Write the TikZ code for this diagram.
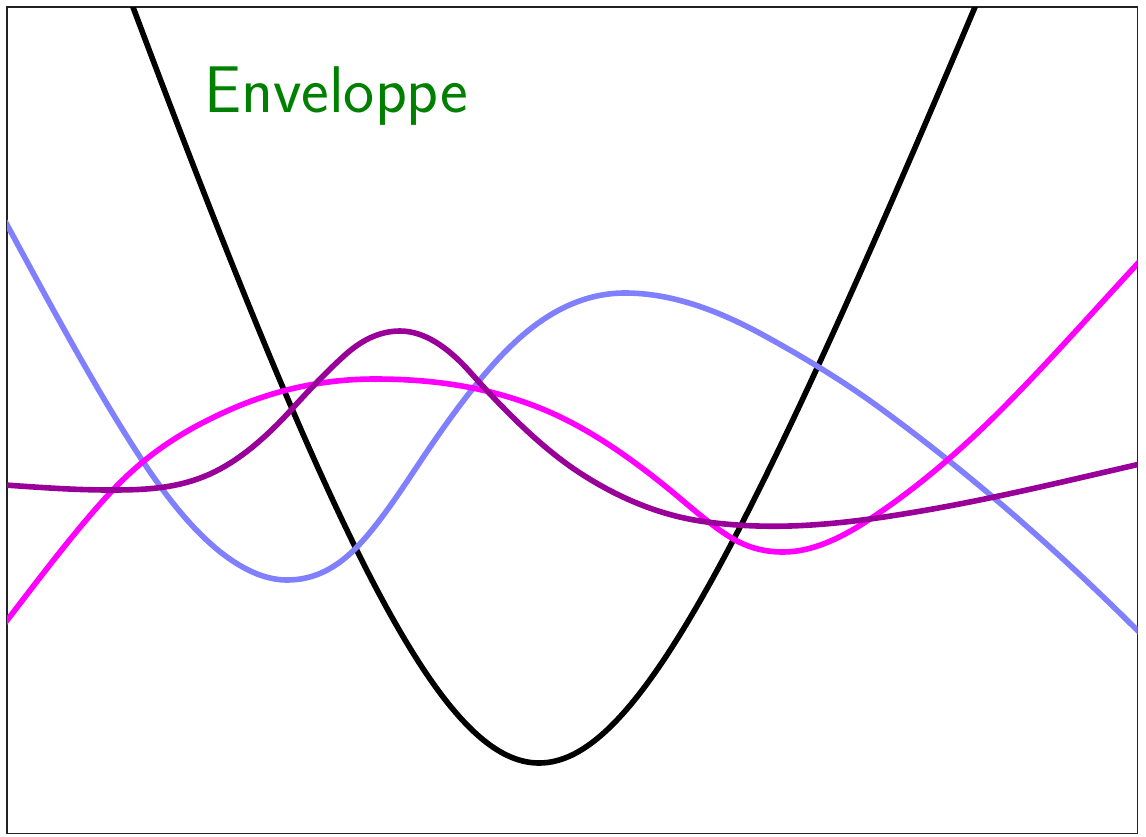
\documentclass[tikz,border=0pt]{standalone}
\definecolor{framegray}{HTML}{222222}
\definecolor{curveblue}{HTML}{8080FF}
\definecolor{curvemagenta}{HTML}{FF00FF}
\definecolor{curvepurple}{HTML}{990099}
\definecolor{envgreen}{HTML}{008000}
\begin{document}
\begin{tikzpicture}[x=1pt,y=-1pt,
  curve/.style={line width=5.6pt, line join=round},
  framebox/.style={line width=1.3pt, draw=framegray}]
\useasboundingbox (0,0) rectangle (1146,836);
\draw[framebox] (7,7) rectangle (1137.5,833.5);
\begin{scope}
\clip (7,7) rectangle (1137.5,833.5);
% black envelope
\draw[curve, black] plot[domain=126:539, samples=90, smooth] (\x, {763-100*(sqrt(33.339+8.763*((\x-539)/100)^2)-5.774)})
  -- plot[domain=539:990, samples=90, smooth] (\x, {763-100*(sqrt(19.167+6.489*((\x-539)/100)^2)-4.378)});
% blue
\draw[curve, curveblue] (5,221)
  .. controls (50.67,305.5) and (96.33,390.6) .. (142,460)
  .. controls (170.33,503.1) and (198.67,536.6) .. (227,557)
  .. controls (247,571.4) and (267,580) .. (287,580)
  .. controls (309.67,580) and (332.33,571.7) .. (355,549)
  .. controls (376.67,527.3) and (398.33,494.5) .. (420,462)
  .. controls (451,415.5) and (482,373.5) .. (513,344)
  .. controls (550.33,308.5) and (587.67,293) .. (625,293)
  .. controls (671.67,293) and (718.33,310.3) .. (765,336)
  .. controls (803.33,357.1) and (841.67,380) .. (880,408)
  .. controls (966.67,471.3) and (1053.33,546.3) .. (1140,633);
% magenta
\draw[curve, curvemagenta] (5,623)
  .. controls (40,577.5) and (75,530.8) .. (110,493)
  .. controls (149,450.9) and (188,428.6) .. (227,411)
  .. controls (276.33,388.8) and (325.67,379) .. (375,379)
  .. controls (430,379) and (485,386) .. (540,408)
  .. controls (583.33,425.3) and (626.67,454.5) .. (670,490)
  .. controls (690,506.4) and (710,524.6) .. (730,537)
  .. controls (747.67,548) and (765.33,552) .. (783,552)
  .. controls (811,552) and (839,539.2) .. (867,521)
  .. controls (911.33,492.2) and (955.67,455.3) .. (1000,411)
  .. controls (1046.67,364.3) and (1093.33,311.4) .. (1140,261);
% purple
\draw[curve, curvepurple] (5,485)
  .. controls (40,487.45) and (75,490) .. (110,490)
  .. controls (143.33,490) and (176.67,489) .. (210,474)
  .. controls (237,461.85) and (264,439.7) .. (291,410)
  .. controls (309,390.2) and (327,371.2) .. (345,355)
  .. controls (363.33,338.5) and (381.67,331) .. (400,331)
  .. controls (423.33,331) and (446.67,345.9) .. (470,372)
  .. controls (506.67,413.1) and (543.33,449.2) .. (580,473)
  .. controls (622.33,500.5) and (664.67,516.5) .. (707,522)
  .. controls (734.67,525.6) and (762.33,526.8) .. (790,526)
  .. controls (835.67,524.6) and (881.33,518) .. (927,510)
  .. controls (998,497.6) and (1069,480.3) .. (1140,464);
\end{scope}
\node[anchor=base west, inner sep=0pt, text=envgreen, font=\sffamily\fontsize{66}{79}\selectfont] (label) at (204,112) {Enveloppe};
\end{tikzpicture}
\end{document}
